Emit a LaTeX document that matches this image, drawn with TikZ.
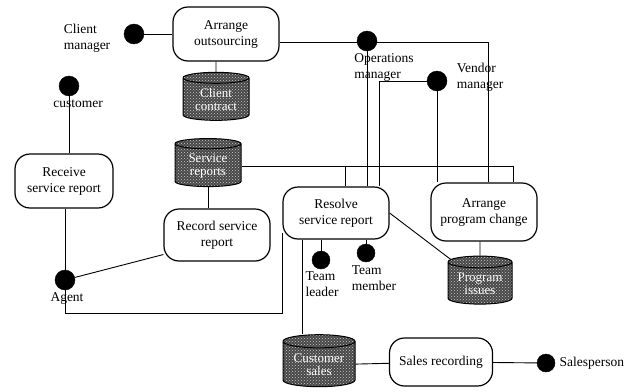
\documentclass[tikz,border=0pt]{standalone}
\usepackage{fontspec}
\setmainfont{Liberation Serif}
\usetikzlibrary{shapes.geometric,patterns}

\begin{document}
\begin{tikzpicture}[x=1pt,y=-1pt,
    every node/.style={font=\fontsize{13.5}{16}\selectfont},
    actor/.style={draw,circle,fill=black,inner sep=0pt,minimum size=20pt},
    proc/.style={draw,line width=1.2pt,rounded corners=15pt,align=center,inner sep=2pt},
    store/.style={draw,cylinder,shape border rotate=90,aspect=0.25,line width=1pt,
        minimum width=66pt,minimum height=48pt,inner sep=1pt,align=center,text=white,
        font=\fontsize{13}{13}\selectfont,
        preaction={fill=black!72},pattern=crosshatch dots,pattern color=white!80!black},
    link/.style={line width=0.9pt}]
    \useasboundingbox (0,0) rectangle (632,391);
    \node[actor] (cm) at (134,34) {};
    \node[align=left] (cmlab) at (87,38) {Client\\manager};
    \node[proc,minimum width=106pt,minimum height=54pt] (arrout) at (226,34) {Arrange\\outsourcing};
    \node[store] (clicon) at (216,100) {Client\\contract};
    \node[store] (serrep) at (208,166) {Service\\reports};
    \node[actor] (cust) at (69,86) {};
    \node (custlab) at (78,104) {customer};
    \node[proc,minimum width=98pt,minimum height=54pt] (recv) at (64,181) {Receive\\service report};
    \node[proc,minimum width=106pt,minimum height=52pt] (recsr) at (217,235) {Record service\\report};
    \node[actor] (agent) at (65,280) {};
    \node (agentlab) at (67,298) {Agent};
    \node[proc,minimum width=106pt,minimum height=52pt] (resolve) at (336,213) {Resolve\\service report};
    \node[actor,minimum size=18pt] (tl) at (321,260) {};
    \node[align=left] (tllab) at (322,284) {Team\\leader};
    \node[actor,minimum size=18pt] (tm) at (366,253) {};
    \node[align=left] (tmlab) at (374,278) {Team\\member};
    \node[actor] (ops) at (367,41) {};
    \node[align=left] (opslab) at (384,67) {Operations\\manager};
    \node[actor] (vend) at (437,81) {};
    \node[align=left] (vendlab) at (480,77) {Vendor\\manager};
    \node[proc,minimum width=106pt,minimum height=58pt] (apc) at (484,212) {Arrange\\program change};
    \node[store,minimum width=64pt] (progiss) at (480,284) {Program\\issues};
    \node[store,minimum width=72pt,minimum height=52pt] (custsal) at (319,365) {Customer\\sales};
    \node[proc,minimum width=103pt,minimum height=48pt] (sales) at (441,362) {Sales recording};
    \node[actor,minimum size=18pt] (salesp) at (546,363) {};
    \node[anchor=west] (salesplab) at (556,363) {Salesperson};

    \draw[link] (cm) -- (arrout);
    \draw[link] (clicon) -- (clicon |- arrout.south);
    \draw[link] ([yshift=-8pt]arrout.east) -| ([xshift=4pt]apc.north);
    \draw[link] (ops) -- (ops |- resolve.north);
    \draw[link] (vend) -| ([xshift=43pt]resolve.north);
    \draw[link] (vend) -- (vend |- apc.north);
    \draw[link] (serrep.east) -| ([xshift=29pt]apc.north);
    \draw[link] ([xshift=9pt]resolve.north) -- ([xshift=9pt]resolve.north |- serrep.east);
    \draw[link] (serrep.south) -- (serrep.south |- recsr.north);
    \draw[link] (cust) -- (cust |- recv.north);
    \draw[link] (agent) -- (agent |- recv.south);
    \draw[link] (agent) -- (recsr.200);
    \draw[link] (agent) -- ++(0,33) -| (resolve.200);
    \draw[link] (resolve.east) -- (progiss.140);
    \draw[link] (progiss) -- (progiss |- apc.south);
    \draw[link] ([xshift=-34pt]resolve.south) -- ([xshift=-34pt]resolve.south |- custsal.north);
    \draw[link] (tl) -- (tl |- resolve.south);
    \draw[link] (tm) -- (tm |- resolve.south);
    \draw[link] (custsal) -- (sales);
    \draw[link] (sales) -- (salesp);
\end{tikzpicture}
\end{document}
